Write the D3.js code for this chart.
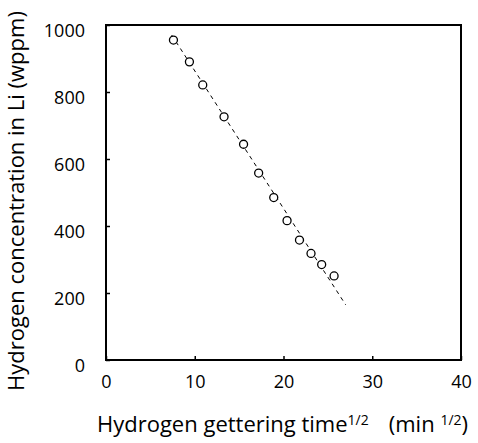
<!DOCTYPE html>
<html>
<head>
<meta charset="utf-8">
<script src="https://cdn.jsdelivr.net/npm/d3@7"></script>
<style>
  body { margin: 0; background: #fff; }
  text { font-family: "Open Sans", sans-serif; fill: #000; }
</style>
</head>
<body>
<div id="chart-area"></div>
<script>
// measured points (sqrt time, wppm)
var timeSqrt = [7.6, 9.4, 10.9, 13.3, 15.5, 17.2, 18.9, 20.4, 21.8, 23.1, 24.3, 25.7];
var conc = [955, 890, 821, 726, 644, 558, 485, 416, 358, 318, 285, 251];

// dashed fit line end points
var fitX = [7.4, 27.0];
var fitY = [970, 165];

var xTicks = [0, 10, 20, 30, 40];
var yTicks = [0, 200, 400, 600, 800, 1000];

var width = 478, height = 443;
var plotLeft = 106, plotRight = 461, plotTop = 25, plotBottom = 360;

var svg = d3.select("#chart-area").append("svg")
    .attr("width", width)
    .attr("height", height);

var x = d3.scaleLinear().domain([0, 40]).range([plotLeft, plotRight]);
var y = d3.scaleLinear().domain([0, 1000]).range([plotBottom, plotTop]);

// frame
svg.append("rect")
    .attr("x", plotLeft)
    .attr("y", plotTop)
    .attr("width", plotRight - plotLeft)
    .attr("height", plotBottom - plotTop)
    .attr("fill", "none")
    .attr("stroke", "#000")
    .attr("stroke-width", 2);

// axes (ticks pointing inward)
var xAxis = svg.append("g")
    .attr("transform", "translate(0," + plotBottom + ")")
    .call(d3.axisBottom(x).tickValues(xTicks).tickFormat(d3.format("d"))
        .tickSize(-4).tickPadding(15));

var yAxis = svg.append("g")
    .attr("transform", "translate(" + plotLeft + ",0)")
    .call(d3.axisLeft(y).tickValues(yTicks).tickFormat(d3.format("d"))
        .tickSize(-4).tickPadding(21));

[xAxis, yAxis].forEach((g) => {
    g.select(".domain").remove();
    g.selectAll(".tick line").attr("stroke", "#000").attr("stroke-width", 1.5);
    g.selectAll("text").style("font-size", "18px").style("font-family", "Open Sans").attr("fill", "#000");
});
yAxis.selectAll("text").attr("dy", "0.63em");

// fit line
var line = d3.line()
    .x((d) => x(d[0]))
    .y((d) => y(d[1]));

svg.append("path")
    .datum(fitX.map((d, i) => [d, fitY[i]]))
    .attr("d", line)
    .attr("fill", "none")
    .attr("stroke", "#000")
    .attr("stroke-width", 1)
    .attr("stroke-dasharray", "4,4");

// points
svg.selectAll("circle")
    .data(timeSqrt)
    .enter().append("circle")
    .attr("cx", (d) => x(d))
    .attr("cy", (d, i) => y(conc[i]))
    .attr("r", 4)
    .attr("fill", "#fff")
    .attr("stroke", "#000")
    .attr("stroke-width", 1.3);

// axis titles
var xTitle = svg.append("text")
    .attr("x", 97)
    .attr("y", 432)
    .style("font-size", "22px");
xTitle.append("tspan").text("Hydrogen gettering time");
xTitle.append("tspan").attr("dy", -7).style("font-size", "14px").text("1/2");
xTitle.append("tspan").attr("dy", 7).attr("dx", 20).text("(min ");
xTitle.append("tspan").attr("dy", -7).style("font-size", "14px").text("1/2");
xTitle.append("tspan").attr("dy", 7).text(")");

svg.append("text")
    .attr("transform", "translate(24," + 201 + ") rotate(-90)")
    .attr("text-anchor", "middle")
    .style("font-size", "22px")
    .text("Hydrogen concentration in Li (wppm)");
</script>
</body>
</html>
